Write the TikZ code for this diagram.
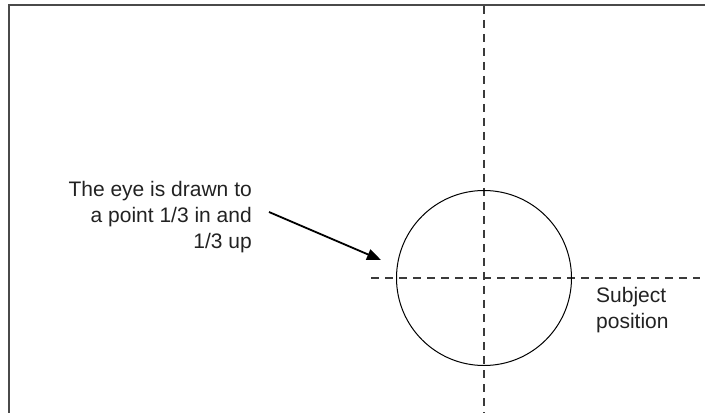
\documentclass[tikz,border=0pt]{standalone}
\usepackage{fontspec}
\setmainfont{Liberation Sans}
\usepackage{xcolor}
\usepackage{tikz}
\usetikzlibrary{arrows.meta,positioning}
\definecolor{framegray}{HTML}{4A4A4A}
\definecolor{guidegray}{HTML}{3A3A3A}
\definecolor{textdark}{HTML}{222222}
\tikzset{
  frameline/.style={draw=framegray,line width=2.2pt},
  guide/.style={draw=guidegray,line width=1.4pt,dash pattern=on 8pt off 6pt},
  subjring/.style={circle,draw=black,line width=1pt,minimum size=175pt,inner sep=0pt},
  lbl/.style={font=\fontsize{21}{26}\selectfont,text=textdark,inner sep=0pt},
  ar/.style={-{Triangle[length=14pt,width=11pt]},draw=black,line width=1.8pt},
}
\begin{document}
\begin{tikzpicture}[x=1pt,y=1pt]
  \useasboundingbox (0,0) rectangle (705,413);
  % frame of the picture
  \coordinate (ftr) at (705,408);
  \coordinate (ftl) at (9,408);
  \coordinate (fbl) at (9,0);
  \draw[frameline] (ftr)--(ftl)--(fbl);
  % thirds guides
  \coordinate (vtop) at (484,407);
  \coordinate (vbot) at (484,0);
  \coordinate (hleft) at (371,135);
  \coordinate (hright) at (700,135);
  \draw[guide] (vtop)--(vbot);
  \draw[guide] (hleft)--(hright);
  \node[subjring] (subj) at (484,135) {};
  % labels
  \node[lbl,align=right,anchor=east] (note) at (252,196)
    {The eye is drawn to\\a point 1/3 in and\\1/3 up};
  \node[lbl,align=left,anchor=west] (pos) at (596,103) {Subject\\position};
  \coordinate (aim) at (381,153);
  \draw[ar] ([xshift=17pt,yshift=5pt]note.east)--(aim);
\end{tikzpicture}
\end{document}
